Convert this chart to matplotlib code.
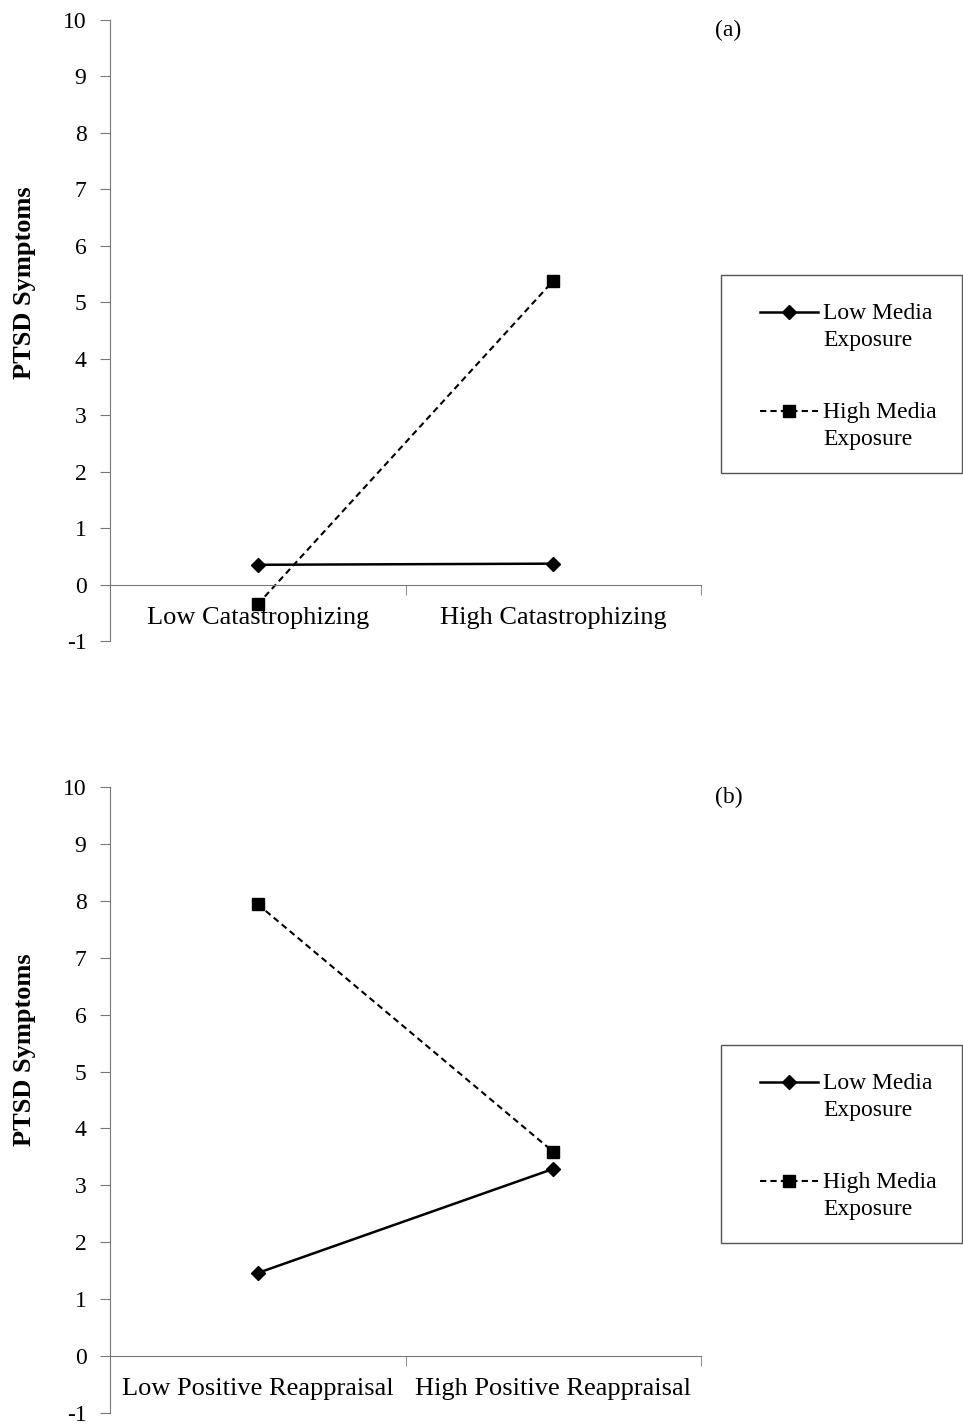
import matplotlib.pyplot as plt
from matplotlib.lines import Line2D
from matplotlib.patches import Rectangle

plt.rcParams['font.family'] = ['Liberation Serif', 'DejaVu Serif']

panel_labels = ['(a)', '(b)']
categories_a = ['Low Catastrophizing', 'High Catastrophizing']
categories_b = ['Low Positive Reappraisal', 'High Positive Reappraisal']
series_names = ['Low Media\nExposure', 'High Media\nExposure']

low_media_a = [0.35, 0.37]
high_media_a = [-0.35, 5.38]
low_media_b = [1.46, 3.29]
high_media_b = [7.94, 3.59]

yticks = list(range(-1, 11))

FS = 17
W, H = 963, 1425

styles = [dict(color='black', lw=1.8, marker='D', ms=7),
          dict(color='black', lw=1.5, ls=(0, (3, 2)), marker='s', ms=8.5)]


def draw_panel(ax, cats, low, high, label_y):
    x = [1, 2]
    ax.plot(x, low, clip_on=False, **styles[0])
    ax.plot(x, high, clip_on=False, **styles[1])
    ax.set_xlim(0.5, 2.5)
    ax.set_ylim(-1, 10)
    ax.set_yticks(yticks)
    ax.set_yticklabels([str(t) for t in yticks], fontsize=FS)
    for s in ['top', 'right']:
        ax.spines[s].set_visible(False)
    ax.spines['left'].set_color('#777777')
    ax.spines['bottom'].set_color('#777777')
    ax.spines['bottom'].set_position(('data', 0))
    ax.tick_params(axis='y', direction='out', length=7, color='#777777', pad=10)
    ax.set_xticks([1, 2])
    ax.set_xticklabels(cats, fontsize=19)
    ax.tick_params(axis='x', which='major', length=0, pad=16)
    ax.set_xticks([1.5, 2.5], minor=True)
    ax.tick_params(axis='x', which='minor', direction='out', length=7, color='#777777')
    ax.set_ylabel('PTSD Symptoms', fontsize=19, fontweight='bold')
    ax.yaxis.set_label_coords(-0.125, label_y)


fig = plt.figure(figsize=(W / 100, H / 100), dpi=100)

ax_a = fig.add_axes([110 / W, 1 - 641 / H, 591 / W, 621 / H])
draw_panel(ax_a, categories_a, low_media_a, high_media_a, 1 - (283 - 20) / 621)
ax_b = fig.add_axes([110 / W, 1 - 1413 / H, 591 / W, 626 / H])
draw_panel(ax_b, categories_b, low_media_b, high_media_b, 1 - (1050 - 787) / 626)

fig.text(715 / W, 1 - 36 / H, panel_labels[0], fontsize=FS)
fig.text(715 / W, 1 - 803 / H, panel_labels[1], fontsize=FS)

# legend boxes (Excel style: handle aligned with the first text line)
for top, bot in [(275, 473), (1045, 1243)]:
    fig.patches.append(Rectangle((721 / W, 1 - bot / H), 241 / W, (bot - top) / H,
                                 transform=fig.transFigure, fill=False,
                                 edgecolor='#555555', lw=1))
    for i, name in enumerate(series_names):
        y_first = top + 37 + i * 99
        fig.add_artist(Line2D([760 / W, 789 / W, 818 / W], [1 - y_first / H] * 3,
                              transform=fig.transFigure, markevery=[1], **styles[i]))
        fig.text(823 / W, 1 - (y_first + 15) / H, name, fontsize=FS,
                 va='center', ha='left', linespacing=1.4)

fig.savefig('out.png', dpi=100)
